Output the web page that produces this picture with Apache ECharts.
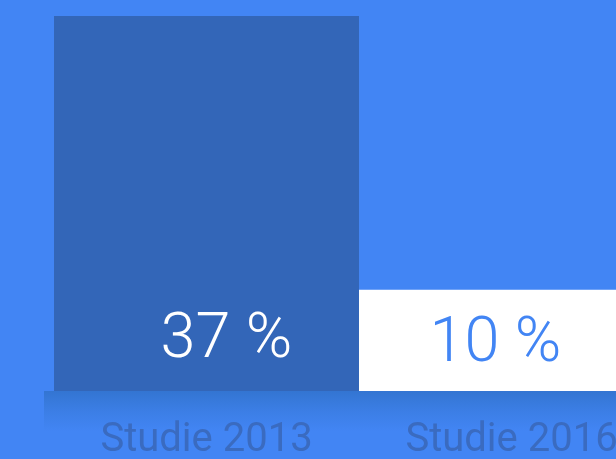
<!DOCTYPE html>
<html><head><meta charset="utf-8">
<script src="https://cdn.jsdelivr.net/npm/echarts@6/dist/echarts.min.js"></script>
<style>html,body{margin:0;padding:0;background:#4285F4;overflow:hidden;width:616px;height:459px;}#c{width:664px;height:459px;}</style>
</head><body><div id="c"></div>
<script>
const categories = ['Studie 2013', 'Studie 2016'];
const values = [37, 10];
const valueLabels = ['37 %', '10 %'];

const chart = echarts.init(document.getElementById('c'), null, {renderer: 'canvas'});
chart.setOption({
  backgroundColor: '#4285F4',
  animation: false,
  graphic: [{
    type: 'rect', z: 0, silent: true,
    shape: {x: 44, y: 391, width: 640, height: 40},
    style: {
      fill: new echarts.graphic.LinearGradient(0, 0, 0, 1, [
        {offset: 0, color: 'rgba(45,110,195,0.7)'},
        {offset: 0.5, color: 'rgba(45,110,195,0.3)'},
        {offset: 1, color: 'rgba(45,110,195,0)'}
      ])
    }
  }],
  grid: {left: 54, right: 0, top: 16, bottom: 68, containLabel: false, outerBoundsMode: 'none'},
  xAxis: {
    type: 'category', data: categories,
    axisLine: {show: false}, axisTick: {show: false},
    axisLabel: {color: '#3A6BC0', fontFamily: 'Roboto', fontSize: 40, margin: 30}
  },
  yAxis: {type: 'value', min: 0, max: 37, show: false, splitLine: {show: false}},
  series: [{
    type: 'bar', barCategoryGap: '0%', z: 2,
    data: values.map((v, i) => ({
      value: v,
      itemStyle: {color: i === 0 ? '#3366B8' : '#FFFFFF'},
      label: {
        show: true, position: 'insideBottom', distance: i === 0 ? 18 : 14,
        offset: i === 0 ? [20, 0] : [-16, 0],
        formatter: valueLabels[i],
        color: i === 0 ? '#FFFFFF' : '#4285F4',
        fontFamily: 'Roboto', fontWeight: 300, fontSize: 63
      }
    }))
  }]
});
</script></body></html>
